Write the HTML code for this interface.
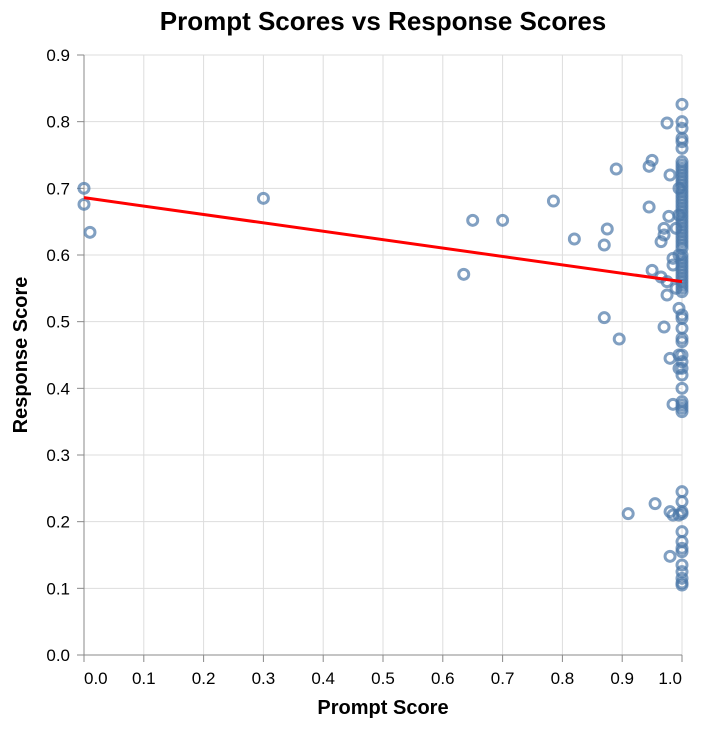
<!DOCTYPE html>
<html><head><meta charset="utf-8"><style>
body{margin:0;background:#fff;}
svg{font-family:"Liberation Sans",Arial,sans-serif;}
</style></head><body>
<svg id="chart" width="702" height="728" xmlns="http://www.w3.org/2000/svg">
<text x="383" y="30" text-anchor="middle" font-size="26" font-weight="bold">Prompt Scores vs Response Scores</text>
<g id="grid"></g><g id="axes"></g><g id="points"></g><g id="trend"></g>
<text x="383" y="714" text-anchor="middle" font-size="20" font-weight="bold">Prompt Score</text>
<text transform="translate(27,355) rotate(-90)" text-anchor="middle" font-size="20" font-weight="bold">Response Score</text>
</svg>
<script>
const xTicks=[0,0.1,0.2,0.3,0.4,0.5,0.6,0.7,0.8,0.9,1.0];
const yTicks=[0,0.1,0.2,0.3,0.4,0.5,0.6,0.7,0.8,0.9];
const leftX=[0,0,0.01,0.30,0.635,0.65,0.70,0.785,0.82,0.87,0.875,0.87,0.895,0.89,0.91,0.945,0.945,0.95,0.95,0.955,0.965,0.965,0.97,0.97,0.97,0.975,0.975,0.975,0.978,0.98,0.98,0.98,0.98,0.985,0.985,0.985,0.985,0.99,0.99,0.995,0.995,0.995,0.995,0.995,0.995,0.995];
const leftY=[0.700,0.676,0.634,0.685,0.571,0.652,0.652,0.681,0.624,0.615,0.639,0.506,0.474,0.729,0.212,0.672,0.733,0.742,0.577,0.227,0.567,0.620,0.640,0.630,0.492,0.798,0.540,0.560,0.658,0.720,0.445,0.215,0.148,0.376,0.210,0.595,0.585,0.55,0.64,0.60,0.43,0.70,0.66,0.52,0.21,0.45];
const colY=[0.826,0.80,0.79,0.775,0.77,0.76,0.74,0.735,0.73,0.725,0.72,0.715,0.71,0.705,0.70,0.695,0.69,0.685,0.68,0.675,0.67,0.665,0.66,0.655,0.65,0.645,0.64,0.635,0.63,0.625,0.62,0.615,0.61,0.60,0.595,0.59,0.585,0.58,0.575,0.57,0.565,0.56,0.555,0.55,0.545,0.51,0.505,0.49,0.475,0.47,0.45,0.44,0.43,0.42,0.40,0.38,0.375,0.37,0.365,0.245,0.23,0.215,0.212,0.185,0.17,0.16,0.155,0.135,0.125,0.115,0.108,0.105];
const trendX=[0,1];
const trendY=[0.686,0.560];
const NS="http://www.w3.org/2000/svg";
const X0=84,X1=682,Y0=655,Y1=55;
const sx=v=>X0+(X1-X0)*v;
const sy=v=>Y0-(Y0-Y1)*v/0.9;
function mk(t,a,p){const e=document.createElementNS(NS,t);for(const k in a)e.setAttribute(k,a[k]);p.appendChild(e);return e;}
const grid=document.getElementById('grid'),axes=document.getElementById('axes'),pts=document.getElementById('points'),tr=document.getElementById('trend');
xTicks.forEach((v,i)=>{const l=mk('line',{x1:sx(v),x2:sx(v),y1:Y1,y2:Y0,stroke:'#ddd'},grid);

mk('line',{x1:sx(v),x2:sx(v),y1:Y0,y2:Y0+7,stroke:'#888'},axes);
const anc=i===0?'start':(i===xTicks.length-1?'end':'middle');
const t=mk('text',{x:sx(v),y:Y0+29,'text-anchor':anc,'font-size':17,fill:'#000'},axes);t.textContent=v.toFixed(1);
});
yTicks.forEach(v=>{const l=mk('line',{x1:X0,x2:X1,y1:sy(v),y2:sy(v),stroke:'#ddd'},grid);

mk('line',{x1:X0-7,x2:X0,y1:sy(v),y2:sy(v),stroke:'#888'},axes);
const t=mk('text',{x:X0-14,y:sy(v)+6,'text-anchor':'end','font-size':17,fill:'#000'},axes);t.textContent=v.toFixed(1);
});
mk('line',{x1:X0,x2:X1,y1:Y0,y2:Y0,stroke:'#888'},axes);
mk('line',{x1:X0,x2:X0,y1:Y1,y2:Y0,stroke:'#888'},axes);
function pt(x,y){const c=mk('circle',{cx:sx(x),cy:sy(y),r:5,fill:'none',stroke:'#4c78a8','stroke-width':3,'stroke-opacity':0.7},pts);
}
leftX.forEach((x,i)=>pt(x,leftY[i]));
colY.forEach(y=>pt(1,y));
const ln=mk('line',{x1:sx(trendX[0]),y1:sy(trendY[0]),x2:sx(trendX[1]),y2:sy(trendY[1]),stroke:'#ff0000','stroke-width':3},tr);

</script>
</body></html>
